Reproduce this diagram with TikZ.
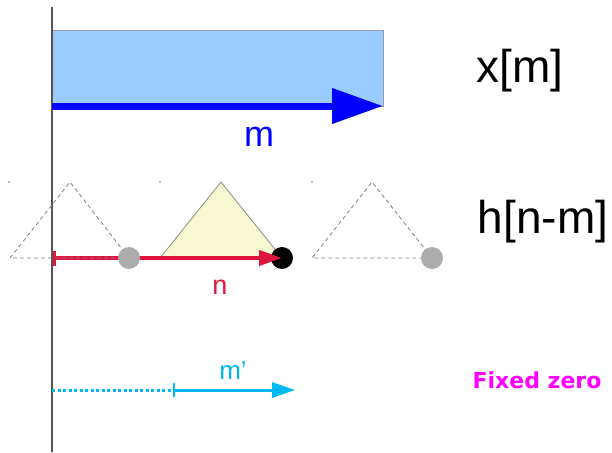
\documentclass[tikz,border=0pt]{standalone}
\usepackage{fontspec}
\setmainfont{Liberation Sans}
\newfontfamily\djv{DejaVu Sans}
\usetikzlibrary{arrows.meta}

\definecolor{boxblue}{RGB}{153,204,255}
\definecolor{tripale}{RGB}{247,247,210}
\definecolor{nred}{RGB}{222,22,62}
\definecolor{mcyan}{RGB}{0,184,240}
\definecolor{axisgray}{RGB}{85,85,85}
\definecolor{fixpink}{RGB}{255,0,255}

\begin{document}
\begin{tikzpicture}[x=1pt, y=-1pt,
    ghost/.style={draw=gray, line width=0.8pt, dash pattern=on 4pt off 3pt},
    sample/.style={circle, inner sep=0pt, minimum size=22pt},
    big/.style={font=\fontsize{46}{50}\selectfont, anchor=base, inner sep=0pt}]

  \useasboundingbox (0,0) rectangle (612,452);

  % input signal x[m]
  \node[draw=gray!80, fill=boxblue, line width=0.8pt, anchor=north west,
        inner sep=0pt, minimum width=331pt, minimum height=76pt] (xbox) at (52,30) {};

  % time axis
  \coordinate (top) at (52,7);
  \coordinate (bot) at (52,452);
  \draw[axisgray, line width=1.4pt] (top) -- (bot);

  \coordinate (m0) at (52,106);
  \coordinate (m1) at (383,106);
  \draw[blue, line width=7pt, -{Triangle[length=51pt, width=34pt]}] (m0) -- (m1);
  \node[big, text=blue, font=\fontsize{36}{40}\selectfont] (mlbl) at (259,146) {m};
  \node[big] (xlbl) at (520,82) {x[m]};

  % flipped and shifted h
  \fill[tripale, draw=gray!90, line width=0.8pt] (160,258) -- (221,182) -- (282,258) -- cycle;
  \node[sample, fill=black] (blk) at (282,258) {};
  \coordinate (n0) at (53,258);
  \draw[nred, line width=4pt, {Bar[width=15pt, line width=2.5pt]}-{Triangle[length=23pt, width=15pt]}]
    (n0) -- (blk.center);
  \draw[ghost] (129,258) -- (70,182) -- (10,258) -- cycle;
  \draw[ghost] (432,258) -- (372,182) -- (312,258) -- cycle;
  \node[sample, fill=gray!65] (g1) at (129,258) {};
  \node[sample, fill=gray!65] (g2) at (432,258) {};
  \foreach \cx in {9,160,312}
    \fill[gray] (\cx,182) circle (0.8pt);
  \node[big, text=nred, font=\fontsize{27}{30}\selectfont] (nlbl) at (220,294) {n};
  \node[big] (hlbl) at (543,233) {h[n-m]};

  % fixed zero
  \coordinate (p0) at (52,390);
  \coordinate (p1) at (173,390);
  \coordinate (p2) at (295,390);
  \draw[mcyan, line width=3pt, dash pattern=on 3pt off 2.5pt] (p0) -- (p1);
  \draw[mcyan, line width=3pt, {Bar[width=14pt, line width=1.5pt]}-{Triangle[length=23pt, width=15pt]}]
    (p1) -- (p2);
  \node[big, text=mcyan, font=\fontsize{26}{30}\selectfont] (mplbl) at (233,379) {m’};
  \node[big, text=fixpink, font=\djv\bfseries\fontsize{22}{26}\selectfont] (fixlbl) at (537,388) {Fixed zero};
\end{tikzpicture}
\end{document}
